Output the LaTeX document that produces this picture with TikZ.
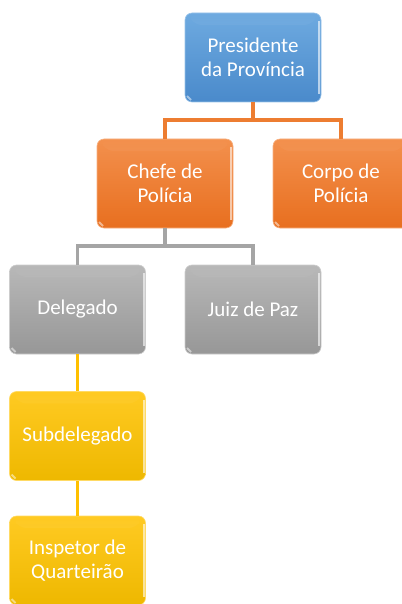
\documentclass[tikz,border=0pt]{standalone}
\usepackage{fontspec}
\setmainfont{Carlito}
\usetikzlibrary{fadings}
\definecolor{bluetop}{HTML}{6EAAE0}
\definecolor{bluebot}{HTML}{4A8ACB}
\definecolor{orgtop}{HTML}{F3904D}
\definecolor{orgbot}{HTML}{E86F1F}
\definecolor{graytop}{HTML}{B8B8B8}
\definecolor{graybot}{HTML}{979797}
\definecolor{goldtop}{HTML}{FFCA22}
\definecolor{goldbot}{HTML}{EEB800}
\definecolor{orgline}{HTML}{ED7D31}
\definecolor{grayline}{HTML}{A5A5A5}
\definecolor{goldline}{HTML}{FFC000}
\tikzset{
  orgbox/.style={rectangle, rounded corners=7pt, minimum width=136pt, minimum height=89pt,
    inner sep=0pt, align=center, text=white, font=\fontsize{21}{23.7}\selectfont,
    path picture={
      \fill[white, opacity=0.35, path fading=north]
        ([xshift=3pt,yshift=-2pt]path picture bounding box.north west) --
        ([xshift=-3pt,yshift=-2pt]path picture bounding box.north east) --
        ([xshift=-10pt,yshift=-12pt]path picture bounding box.north east) --
        ([xshift=10pt,yshift=-12pt]path picture bounding box.north west) -- cycle;
      \draw[white, opacity=0.6, line width=2pt]
        ([xshift=-2pt,yshift=-8pt]path picture bounding box.north east) --
        ([xshift=-2pt,yshift=8pt]path picture bounding box.south east);
      \draw[white, opacity=0.5, line width=2pt]
        ([xshift=2pt,yshift=6pt]path picture bounding box.south west) --
        ([xshift=6pt,yshift=2pt]path picture bounding box.south west);
    }},
  bluebox/.style={orgbox, top color=bluetop, bottom color=bluebot, draw=bluetop!70!white, line width=0.6pt},
  orangebox/.style={orgbox, top color=orgtop, bottom color=orgbot, draw=orgtop!70!white, line width=0.6pt},
  graybox/.style={orgbox, top color=graytop, bottom color=graybot, draw=graytop!70!white, line width=0.6pt},
  goldbox/.style={orgbox, top color=goldtop, bottom color=goldbot, draw=goldtop!70!white, line width=0.6pt},
  conn/.style={line width=3.5pt}
}
\begin{document}
\begin{tikzpicture}[x=1pt,y=-1pt]
\useasboundingbox (0,0) rectangle (401,604);
\coordinate (j1) at (253,120);
\coordinate (j2) at (165,246);
\node[bluebox] (pres) at (253,57.5) {Presidente\\da Província};
\node[orangebox] (chefe) at (165,183.5) {Chefe de\\Polícia};
\node[orangebox] (corpo) at (341,183.5) {Corpo de\\Polícia};
\node[graybox] (deleg) at (77.5,309.5) {Delegado};
\node[graybox] (juiz) at (253,309.5) {Juiz de Paz};
\node[goldbox] (sub) at (77.5,436) {Subdelegado};
\node[goldbox] (insp) at (77.5,560.5) {Inspetor de\\Quarteirão};
\draw[conn, orgline] (pres.south) -- (j1) -| (chefe.north);
\draw[conn, orgline] (j1) -| (corpo.north);
\draw[conn, grayline] (chefe.south) -- (j2) -| (deleg.north);
\draw[conn, grayline] (j2) -| (juiz.north);
\draw[conn, goldline] (deleg.south) -- (sub.north);
\draw[conn, goldline] (sub.south) -- (insp.north);
\end{tikzpicture}
\end{document}
